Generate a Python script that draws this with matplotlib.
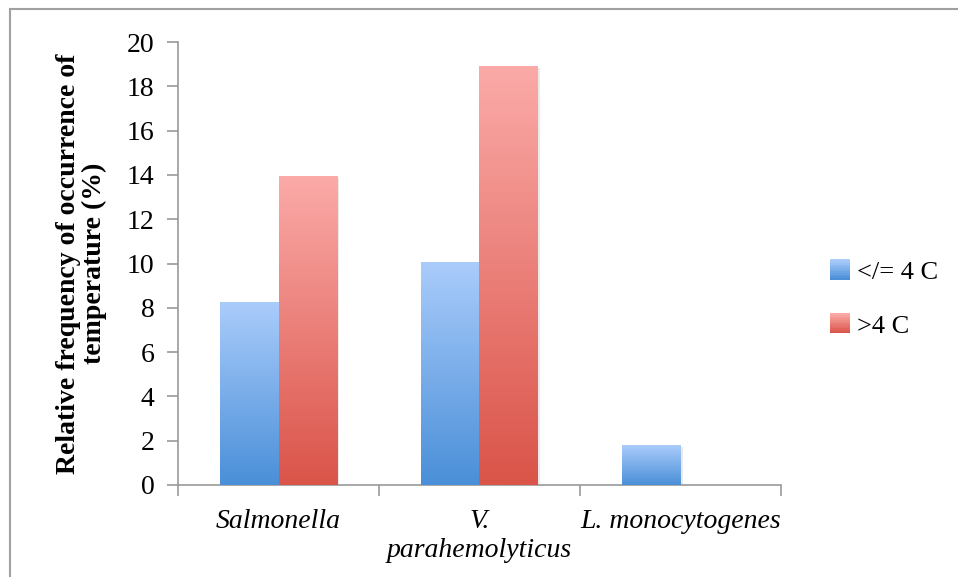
import numpy as np
import matplotlib
matplotlib.use("Agg")
import matplotlib.pyplot as plt
from matplotlib.colors import LinearSegmentedColormap, to_rgb
from matplotlib.patches import Rectangle
from matplotlib.legend_handler import HandlerBase
import matplotlib.patheffects as pe

categories = ["Salmonella", "V.\nparahemolyticus", "L. monocytogenes"]
cold = [8.25, 10.05, 1.8]    # </= 4 C
warm = [13.95, 18.9, 0.0]    # >4 C
series_labels = ["</= 4 C", ">4 C"]
yticks = [0, 2, 4, 6, 8, 10, 12, 14, 16, 18, 20]

blue = ("#aaccfb", "#4a8fd8")   # (top, bottom)
red = ("#fbaaa8", "#da5449")

plt.rcParams["font.family"] = ["Liberation Serif", "DejaVu Serif"]

fig = plt.figure(figsize=(9.58, 5.77), dpi=100)
fig.patches.append(Rectangle((9.5 / 958, -0.1), 1.2, 1 - 8.5 / 577 + 0.1,
                             transform=fig.transFigure, fill=False,
                             edgecolor="#a0a0a0", linewidth=1.5))
ax = fig.add_axes([178 / 958, 1 - 485 / 577, 603 / 958, 443 / 577])

width = 0.29
x = np.arange(len(categories))


def gradient_bars(xs, heights, colors, offset):
    cmap = LinearSegmentedColormap.from_list("g", [colors[1], colors[0]])
    grad = np.linspace(0, 1, 256).reshape(-1, 1)
    bars = ax.bar(xs + offset, heights, width, color="white", zorder=2,
                  path_effects=[pe.SimplePatchShadow(offset=(1.5, -1.5), alpha=0.12,
                                                     shadow_rgbFace="#555555"),
                                pe.Normal()])
    for b in bars:
        h = b.get_height()
        if h <= 0:
            continue
        x0 = b.get_x()
        im = ax.imshow(grad, extent=[x0, x0 + b.get_width(), 0, h], origin="lower",
                       aspect="auto", cmap=cmap, zorder=3)
        im.set_clip_path(b)
    return bars


gradient_bars(x, cold, blue, -width / 2)
gradient_bars(x, warm, red, width / 2)

ax.set_xlim(-0.5, 2.5)
ax.set_ylim(0, 20)
ax.set_yticks(yticks)
ax.tick_params(axis="y", labelsize=20, length=8, width=1.2, color="#999999", pad=9)

ax.set_xticks(x)
ax.set_xticklabels(categories, fontsize=20, style="italic", linespacing=1.22,
                   va="top")
ax.tick_params(axis="x", length=0, pad=17)
ax.set_xticks(np.arange(-0.5, 3, 1), minor=True)
ax.tick_params(axis="x", which="minor", length=8, width=1.2, color="#999999")

for s in ["top", "right"]:
    ax.spines[s].set_visible(False)
for s in ["left", "bottom"]:
    ax.spines[s].set_color("#999999")
    ax.spines[s].set_linewidth(1.2)

ax.set_ylabel("Relative frequency of occurrence of\ntemperature (%)",
              fontsize=20, fontweight="bold", labelpad=14, linespacing=1.05)


class GradientHandler(HandlerBase):
    def __init__(self, colors):
        super().__init__()
        self.colors = colors

    def create_artists(self, legend, orig_handle, xdescent, ydescent,
                       width, height, fontsize, trans):
        top = np.array(to_rgb(self.colors[0]))
        bot = np.array(to_rgb(self.colors[1]))
        n = 12
        side = height
        x0 = -xdescent + (width - side) / 2
        y0 = -ydescent
        arts = []
        for i in range(n):
            c = bot + (top - bot) * i / (n - 1)
            arts.append(Rectangle((x0, y0 + side * i / n), side, side / n + 0.3,
                                  facecolor=c, edgecolor="none", transform=trans))
        return arts


h1 = Rectangle((0, 0), 1, 1)
h2 = Rectangle((0, 0), 1, 1)
fig.legend([h1, h2], series_labels, loc="center left",
           bbox_to_anchor=(806 / 958, 1 - 298.5 / 577), frameon=False,
           fontsize=19, handlelength=0.8, handleheight=0.8, handletextpad=0.25,
           labelspacing=1.12,
           handler_map={h1: GradientHandler(blue), h2: GradientHandler(red)})

fig.savefig("out.png", dpi=100)
